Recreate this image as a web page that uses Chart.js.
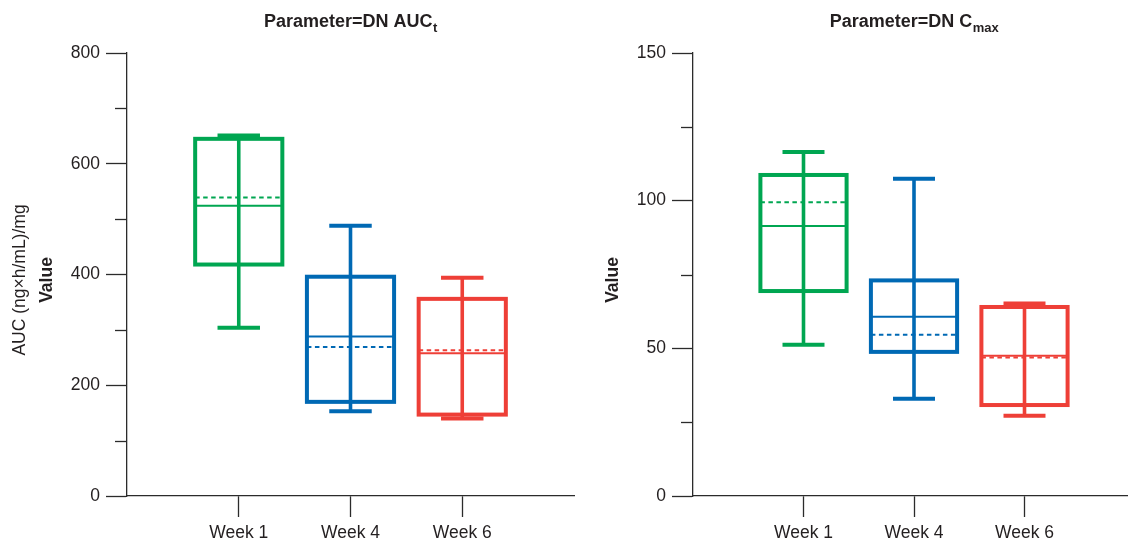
<!DOCTYPE html>
<html lang="en">
<head>
<meta charset="UTF-8">
<title>DN AUCt and Cmax by week</title>
<script src="https://cdn.jsdelivr.net/npm/chart.js"></script>
<style>
  html, body { margin: 0; padding: 0; background: #fff; overflow: hidden; }
  canvas { position: absolute; top: 0; }
  #aucChart { left: 0; }
  #cmaxChart { left: 580px; }
</style>
</head>
<body>
<canvas id="aucChart" width="580" height="544"></canvas>
<canvas id="cmaxChart" width="561" height="544"></canvas>

<script>
// categories and their place on the x axis
const weeks = ['Week 1', 'Week 4', 'Week 6'];
const weekPos = [1, 2, 3];
const boxColors = ['#00a651', '#0069b4', '#ee3f37'];

// DN AUCt, (ng×h/mL)/mg
const aucMin    = [304, 153, 140];
const aucQ1     = [418, 170, 147];
const aucMedian = [524, 288, 258];
const aucMean   = [539, 269, 263];
const aucQ3     = [645, 396, 356];
const aucMax    = [651, 488, 394];

// DN Cmax
const cmaxMin    = [51.2, 32.9, 27.2];
const cmaxQ1     = [69.4, 48.8, 30.8];
const cmaxMedian = [91.4, 60.7, 47.5];
const cmaxMean   = [99.5, 54.6, 46.9];
const cmaxQ3     = [108.7, 73.0, 64.0];
const cmaxMax    = [116.5, 107.4, 65.2];

const textColor = '#231f20';
const axisColor = '#2b2b2b';
const fontFamily = "'Liberation Sans', Arial, sans-serif";
const fontSize = 17.5;

function boxPlugin(s) {
    return {
        id: 'boxPlot',
        afterDatasetsDraw(chart) {
            const {ctx, scales: {x, y}} = chart;
            const line = (x1, y1, x2, y2) => {
                ctx.beginPath(); ctx.moveTo(x1, y1); ctx.lineTo(x2, y2); ctx.stroke();
            };
            ctx.save();
            weekPos.forEach((p, i) => {
                const cx = x.getPixelForValue(p);
                const half = x.getPixelForValue(p + 0.39) - cx;
                const cap = x.getPixelForValue(p + 0.19) - cx;
                const yMin = y.getPixelForValue(s.min[i]);
                const yMax = y.getPixelForValue(s.max[i]);
                const yQ1 = y.getPixelForValue(s.q1[i]);
                const yQ3 = y.getPixelForValue(s.q3[i]);
                ctx.strokeStyle = boxColors[i];
                ctx.setLineDash([]);
                ctx.lineCap = 'butt';
                // whisker + caps
                ctx.lineWidth = 3.6;
                line(cx, yMin, cx, yMax);
                ctx.lineWidth = 4;
                line(cx - cap, yMax, cx + cap, yMax);
                line(cx - cap, yMin, cx + cap, yMin);
                // box
                ctx.strokeRect(cx - half, yQ3, 2 * half, yQ1 - yQ3);
                // median
                ctx.lineWidth = 2;
                const yMed = y.getPixelForValue(s.median[i]);
                line(cx - half, yMed, cx + half, yMed);
                // mean (dotted)
                ctx.setLineDash([4.5, 3.5]);
                const yMean = y.getPixelForValue(s.mean[i]);
                line(cx - half, yMean, cx + half, yMean);
            });
            ctx.restore();
        },
        afterDraw(chart) {
            const {ctx, chartArea, scales: {y}} = chart;
            ctx.save();
            // minor ticks
            ctx.strokeStyle = axisColor;
            ctx.lineWidth = 1.3;
            y.ticks.forEach(t => {
                if (t.value % s.major !== 0) {
                    const py = Math.round(y.getPixelForValue(t.value)) + 0.5;
                    ctx.beginPath();
                    ctx.moveTo(chartArea.left - 12, py);
                    ctx.lineTo(chartArea.left, py);
                    ctx.stroke();
                }
            });
            // header with subscript
            const cx = (chartArea.left + chartArea.right) / 2;
            ctx.fillStyle = textColor;
            ctx.textBaseline = 'alphabetic';
            ctx.font = 'bold 18px ' + fontFamily;
            const wMain = ctx.measureText(s.title).width;
            ctx.font = 'bold 13px ' + fontFamily;
            const wSub = ctx.measureText(s.sub).width;
            const x0 = cx - (wMain + wSub) / 2;
            ctx.textAlign = 'left';
            ctx.font = 'bold 18px ' + fontFamily;
            ctx.fillText(s.title, x0, 27);
            ctx.font = 'bold 13px ' + fontFamily;
            ctx.fillText(s.sub, x0 + wMain + 0.5, 32);
            // y titles
            ctx.textAlign = 'center';
            ctx.textBaseline = 'middle';
            s.yTitles.forEach(t => {
                ctx.save();
                ctx.translate(t.x, 280);
                ctx.rotate(-Math.PI / 2);
                ctx.font = t.font + ' ' + fontSize + 'px ' + fontFamily;
                ctx.fillText(t.text, 0, 0);
                ctx.restore();
            });
            ctx.restore();
        }
    };
}

function makeChart(id, s) {
    return new Chart(document.getElementById(id), {
        type: 'scatter',
        data: { datasets: [] },
        options: {
            responsive: false,
            animation: false,
            layout: { padding: { top: 53, right: s.padRight, left: 0, bottom: 0 } },
            plugins: { legend: { display: false }, tooltip: { enabled: false } },
            scales: {
                x: {
                    type: 'linear',
                    min: 0,
                    max: 4,
                    afterFit: sc => { sc.height = 48; },
                    afterBuildTicks: sc => { sc.ticks = [0, 1, 2, 3, 4].map(v => ({ value: v })); },
                    ticks: {
                        autoSkip: false,
                        maxRotation: 0,
                        padding: 6,
                        color: textColor,
                        font: { family: fontFamily, size: fontSize },
                        callback: v => weeks[weekPos.indexOf(v)] || ''
                    },
                    grid: {
                        drawOnChartArea: false,
                        tickLength: 21,
                        tickWidth: 1.3,
                        tickColor: c => weekPos.includes(c.tick && c.tick.value) ? axisColor : 'rgba(0,0,0,0)'
                    },
                    border: { color: axisColor, width: 1.3 }
                },
                y: {
                    min: 0,
                    max: s.yMax,
                    afterFit: sc => { sc.width = s.axisLeft; },
                    ticks: {
                        stepSize: s.step,
                        autoSkip: false,
                        padding: 6,
                        color: textColor,
                        font: { family: fontFamily, size: fontSize },
                        callback: v => (v % s.major === 0 ? v : '')
                    },
                    grid: {
                        drawOnChartArea: false,
                        tickLength: 21,
                        tickWidth: 1.3,
                        tickColor: c => (c.tick && c.tick.value % s.major === 0) ? axisColor : 'rgba(0,0,0,0)'
                    },
                    border: { color: axisColor, width: 1.3 }
                }
            }
        },
        plugins: [boxPlugin(s)]
    });
}

makeChart('aucChart', {
    min: aucMin, q1: aucQ1, median: aucMedian, mean: aucMean, q3: aucQ3, max: aucMax,
    yMax: 800, step: 100, major: 200,
    axisLeft: 127, padRight: 5,
    title: 'Parameter=DN AUC', sub: 't',
    yTitles: [
        { text: 'AUC (ng×h/mL)/mg', x: 20, font: 'normal' },
        { text: 'Value', x: 47, font: 'bold' }
    ]
});

makeChart('cmaxChart', {
    min: cmaxMin, q1: cmaxQ1, median: cmaxMedian, mean: cmaxMean, q3: cmaxQ3, max: cmaxMax,
    yMax: 150, step: 25, major: 50,
    axisLeft: 113, padRight: 0,
    title: 'Parameter=DN C', sub: 'max',
    yTitles: [
        { text: 'Value', x: 33, font: 'bold' }
    ]
});
</script>
</body>
</html>
